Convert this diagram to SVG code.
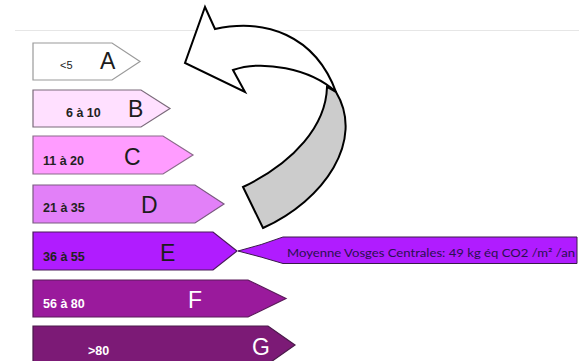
<svg xmlns="http://www.w3.org/2000/svg" width="579" height="361" viewBox="0 0 579 361">
<style>
.bar{stroke-width:1.2;stroke-linejoin:miter}
.lbl{font-family:"Liberation Sans",Arial,sans-serif;font-weight:bold;font-size:12.5px;fill:#222}
.big{font-family:"Liberation Sans",Arial,sans-serif;font-size:23px;fill:#1c1c1c}
.wt{fill:#ffffff}
.arr{stroke:#000;stroke-width:2;stroke-linejoin:miter}
</style>
<rect x="0" y="0" width="579" height="361" fill="#ffffff"/>
<line x1="15" y1="30.5" x2="579" y2="30.5" stroke="#e6e6e6" stroke-width="1"/>
<g id="A">
<polygon class="bar" points="33,43 112,43 140,61.5 112,80 33,80" fill="#ffffff" stroke="#9a9a9a"/>
<text class="lbl" x="60" y="69" style="font-weight:normal;font-size:11px">&lt;5</text>
<text class="big" x="100" y="69">A</text>
</g>
<g id="B">
<polygon class="bar" points="33,90 141,90 170,108.5 141,127 33,127" fill="#ffe0ff" stroke="#7a6a7a"/>
<text class="lbl" x="66" y="117">6 à 10</text>
<text class="big" x="128" y="117">B</text>
</g>
<g id="C">
<polygon class="bar" points="33,136 163,136 193,155 163,174 33,174" fill="#ff9cff" stroke="#8a6a8a"/>
<text class="lbl" x="43" y="165">11 à 20</text>
<text class="big" x="124" y="165">C</text>
</g>
<g id="D">
<polygon class="bar" points="33,185 195,185 224,204 195,223 33,223" fill="#e280f8" stroke="#7a5a80"/>
<text class="lbl" x="43" y="212">21 à 35</text>
<text class="big" x="141" y="213">D</text>
</g>
<g id="E">
<polygon class="bar" points="33,232 213,232 237,251 213,270 33,270" fill="#b01cff" stroke="#4a1a5a"/>
<text class="lbl" x="43" y="261" fill="#1a0a2a">36 à 55</text>
<text class="big" x="160" y="261">E</text>
</g>
<g id="F">
<polygon class="bar" points="33,280 248,280 286,298.5 248,317 33,317" fill="#9a1a9c" stroke="#5a1a5a"/>
<text class="lbl wt" x="43" y="307.5">56 à 80</text>
<text class="big wt" x="188" y="307.5">F</text>
</g>
<g id="G">
<polygon class="bar" points="33,326 268,326 295,345 268,364 33,364" fill="#7c1a76" stroke="#4a1a4a"/>
<text class="lbl wt" x="88" y="355">&gt;80</text>
<text class="big wt" x="252" y="355">G</text>
</g>
<g id="moyenne">
<path d="M238,251 Q262,245 283,237 L577,237 L577,263.5 L283,263.5 Q262,257 238,251 Z" fill="#b01cff" stroke="#3a1a4a" stroke-width="1"/>
<text x="287" y="257" font-family="Lato,'Open Sans',sans-serif" font-size="10.8" fill="#2a1050" textLength="288" lengthAdjust="spacingAndGlyphs">Moyenne  Vosges Centrales: 49 kg éq CO2 /m² /an</text>
</g>
<g id="connectors">
<path class="arr" d="M327,87 C326,125 295,162 243,187 L263,228 C325,200 365,140 336,92 Z" fill="#cccccc"/>
<path class="arr" d="M205,7 L215,29 C265,18 315,35 336,92 C310,68 262,60 233,70 L245,92 L185,63 Z" fill="#ffffff"/>
</g>
</svg>
